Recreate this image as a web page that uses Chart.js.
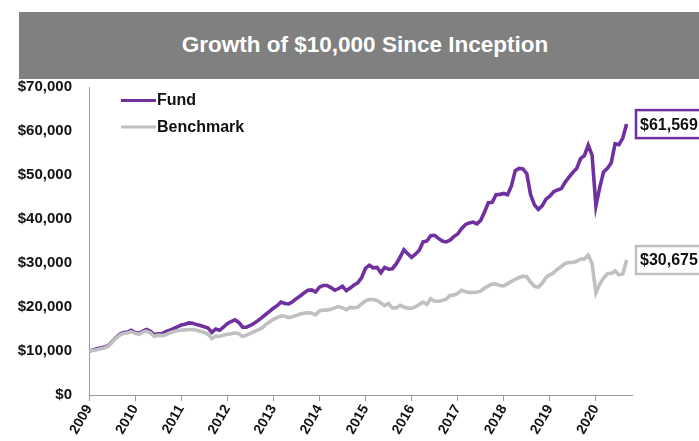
<!DOCTYPE html>
<html>
<head>
<meta charset="utf-8">
<script src="https://cdn.jsdelivr.net/npm/chart.js@4.4.1/dist/chart.umd.min.js"></script>
<style>
  html, body { margin: 0; padding: 0; background: #ffffff; }
  #wrap { position: relative; width: 699px; height: 441px; overflow: hidden; }
  #title {
    position: absolute; left: 19px; top: 12px; width: 692px; height: 67px;
    background: #808080; color: #ffffff;
    font-family: "Liberation Sans", Arial, sans-serif; font-weight: bold; font-size: 22.5px;
    line-height: 65px; text-align: center; z-index: 2;
  }
  #chart { position: absolute; left: 0; top: 0; }
</style>
</head>
<body>
<div id="wrap">
  <div id="title">Growth of $10,000 Since Inception</div>
  <canvas id="chart" width="699" height="441"></canvas>
</div>
<script>
// ---- data (monthly, starting March 2009) ----
const startYear = 2009;
const startMonth = 2; // March
const xTickLabels = ['2009','2010','2011','2012','2013','2014','2015','2016','2017','2018','2019','2020'];
const seriesNames = ['Fund', 'Benchmark'];
const seriesColors = ['#7030a0', '#c0c0c0'];

const fund = [
  10000,10200,10500,10700,10900,11200,12100,13000,13800,14200,14300,14700,
  14200,14000,14500,14900,14500,13700,13900,13900,14400,14700,15100,15500,
  15900,16100,16400,16300,16000,15800,15500,15200,14200,15000,14700,15400,
  16200,16700,17100,16500,15400,15400,15800,16300,16900,17600,18300,19000,
  19700,20300,21100,20800,20700,21200,21900,22500,23200,23800,23900,23400,
  24500,24900,24900,24400,23800,24200,24700,23700,24300,25000,25500,26700,
  28800,29500,28900,29000,27800,29000,28600,28700,29800,31300,33000,32100,
  31300,32000,32900,34800,35000,36200,36300,35600,35000,34800,35200,36000,
  36600,37800,38700,39100,39300,38900,39700,41600,43700,43800,45500,45600,
  45800,45500,47500,51000,51500,51400,50300,45500,43200,42200,43000,44500,
  45200,46200,46600,46900,48400,49500,50600,51500,53700,54400,56800,54500,
  43000,47200,50700,51500,52800,57100,56900,58400,61569
];
const benchmark = [
  10000,10100,10300,10500,10700,11100,12000,12900,13600,14000,14100,14400,
  14000,13800,14300,14500,14100,13300,13600,13500,13700,14100,14400,14600,
  14700,14800,14900,14900,14700,14500,14200,13800,12800,13400,13300,13600,
  13800,13900,14100,13900,13300,13600,14000,14400,14800,15200,16000,16600,
  17200,17600,18000,17900,17600,17800,18100,18400,18600,18700,18600,18200,
  19100,19300,19300,19500,19800,20100,19800,19400,19900,19800,20000,20700,
  21400,21700,21700,21500,20900,20300,20800,19800,19800,20400,20000,19700,
  19700,20000,20600,21100,20600,21900,21300,21300,21500,21800,22600,22700,
  23100,23800,23500,23300,23300,23400,23600,24300,24800,25200,25200,24900,
  24800,25300,25800,26300,26700,27000,26900,25600,24700,24500,25400,26700,
  27300,27800,28600,29200,29900,30100,30100,30400,30900,30900,31800,29900,
  23200,25200,26600,27600,27600,28200,27300,27500,30675
];

const monthNames = ['Jan','Feb','Mar','Apr','May','Jun','Jul','Aug','Sep','Oct','Nov','Dec'];
const months = fund.map((_, i) => {
  const m = startMonth + i;
  return monthNames[m % 12] + ' ' + (startYear + Math.floor(m / 12));
});

const FONT = '"Liberation Sans", Arial, sans-serif';
const fmt = v => '$' + Math.round(v).toLocaleString('en-US');

// legend drawn inside the plot area
const legendPlugin = {
  id: 'insideLegend',
  afterDraw(chart) {
    const ctx = chart.ctx;
    ctx.save();
    seriesNames.forEach((name, i) => {
      const y = 100.5 + i * 26.5;
      ctx.strokeStyle = seriesColors[i];
      ctx.lineWidth = 3;
      ctx.beginPath();
      ctx.moveTo(121, y);
      ctx.lineTo(156, y);
      ctx.stroke();
      ctx.fillStyle = '#111';
      ctx.font = 'bold 16px ' + FONT;
      ctx.textBaseline = 'middle';
      ctx.textAlign = 'left';
      ctx.fillText(name, 157, y + 0.5);
    });
    ctx.restore();
  }
};

// end-value boxes
const endLabelPlugin = {
  id: 'endLabels',
  afterDraw(chart) {
    const ctx = chart.ctx;
    ctx.save();
    chart.data.datasets.forEach((ds, i) => {
      const meta = chart.getDatasetMeta(i);
      const pt = meta.data[meta.data.length - 1];
      const val = ds.data[ds.data.length - 1].y;
      const y = pt.y;
      const h = 28;
      ctx.fillStyle = '#ffffff';
      ctx.fillRect(636, y - h / 2, 80, h);
      ctx.strokeStyle = ds.borderColor;
      ctx.lineWidth = 2.5;
      ctx.strokeRect(636, y - h / 2, 80, h);
      ctx.fillStyle = '#111';
      ctx.font = 'bold 16px ' + FONT;
      ctx.textBaseline = 'middle';
      ctx.textAlign = 'left';
      ctx.fillText(fmt(val), 640, y + 1);
    });
    ctx.restore();
  }
};

new Chart(document.getElementById('chart'), {
  type: 'line',
  data: {
    labels: months,
    datasets: [
      {
        label: seriesNames[0],
        data: fund.map((v, i) => ({ x: i, y: v })),
        borderColor: seriesColors[0],
        borderWidth: 3.6,
        pointRadius: 0,
        tension: 0,
        order: 2
      },
      {
        label: seriesNames[1],
        data: benchmark.map((v, i) => ({ x: i, y: v })),
        borderColor: seriesColors[1],
        borderWidth: 3.6,
        pointRadius: 0,
        tension: 0,
        order: 1
      }
    ]
  },
  options: {
    responsive: false,
    animation: false,
    events: [],
    layout: { padding: { top: 87, right: 67, left: 0, bottom: 0 } },
    plugins: {
      legend: { display: false },
      tooltip: { enabled: false },
      title: { display: false }
    },
    scales: {
      x: {
        type: 'linear',
        min: 0,
        max: 141.4,
        afterBuildTicks: (scale) => {
          scale.ticks = xTickLabels.map((_, k) => ({ value: k * 12 }));
        },
        afterFit: (scale) => { scale.height = 46; },
        ticks: {
          autoSkip: false,
          maxRotation: 60,
          minRotation: 60,
          padding: 1,
          color: '#111',
          font: { family: FONT, weight: 'bold', size: 14 },
          callback: (value) => xTickLabels[Math.round(value / 12)]
        },
        grid: {
          display: true,
          drawOnChartArea: false,
          drawTicks: true,
          tickLength: 6,
          color: '#9a9a9a'
        },
        border: { display: true, color: '#9a9a9a', width: 1 }
      },
      y: {
        min: 0,
        max: 70000,
        afterFit: (scale) => { scale.width = 89; },
        ticks: {
          stepSize: 10000,
          padding: 17,
          color: '#111',
          font: { family: FONT, weight: 'bold', size: 15 },
          callback: (v) => fmt(v)
        },
        grid: { display: false, drawTicks: false },
        border: { display: true, color: '#9a9a9a', width: 1 }
      }
    }
  },
  plugins: [legendPlugin, endLabelPlugin]
});
</script>
</body>
</html>
